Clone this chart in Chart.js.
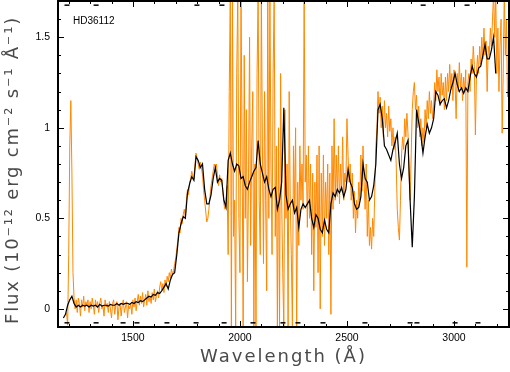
<!DOCTYPE html>
<html><head><meta charset="utf-8">
<script src="https://cdn.jsdelivr.net/npm/chart.js@4.4.1/dist/chart.umd.min.js"></script>
<style>html,body{margin:0;padding:0;background:#fff}canvas{display:block}</style>
</head><body>
<canvas id="c" width="510" height="372"></canvas>
<script>
// ---- data ----
const starName = 'HD36112';
const xTitle = 'Wavelength (Å)';
const yTitle = 'Flux (10⁻¹² erg cm⁻² s⁻¹ Å⁻¹)';
const xTickValues = [1500, 2000, 2500, 3000];
const xTickLabels = ['1500', '2000', '2500', '3000'];
const yTickValues = [0, 0.5, 1, 1.5];
const yTickLabels = ['0', '0.5', '1', '1.5'];

// black (smoothed) spectrum: wavelength grid start / step (Å)
const blackStart = 1175, blackStep = 10;
const blackFlux = [
  -0.05, -0.03, 0.02, 0.05, 0.07, 0.03, 0.01, 0.02, 0.01, 0.02,
  0.015, 0.02, 0.01, 0.02, 0.015, 0.02, 0.01, 0.025, 0.015, 0.02,
  0.02, 0.015, 0.025, 0.02, 0.02, 0.03, 0.02, 0.03, 0.025, 0.03,
  0.03, 0.025, 0.035, 0.03, 0.04, 0.035, 0.045, 0.04, 0.05, 0.06,
  0.07, 0.065, 0.08, 0.075, 0.09, 0.085, 0.1, 0.12, 0.14, 0.11,
  0.16, 0.19, 0.2, 0.3, 0.42, 0.47, 0.51, 0.5, 0.64, 0.69,
  0.73, 0.71, 0.84, 0.82, 0.78, 0.8, 0.66, 0.58, 0.58, 0.63,
  0.72, 0.78, 0.7, 0.72, 0.71, 0.6, 0.56, 0.82, 0.86, 0.8,
  0.76, 0.8, 0.79, 0.72, 0.73, 0.68, 0.66, 0.7, 0.73, 0.76,
  0.78, 0.93, 0.8, 0.75, 0.7, 0.73, 0.66, 0.62, 0.66, 0.67,
  0.55, 0.6, 0.7, 1.11, 0.63, 0.55, 0.58, 0.6, 0.53, 0.56,
  0.45, 0.55, 0.58, 0.56, 0.58, 0.6, 0.5, 0.45, 0.52, 0.5,
  0.44, 0.42, 0.49, 0.44, 0.42, 0.58, 0.64, 0.62, 0.66, 0.64,
  0.67, 0.62, 0.66, 0.77, 0.7, 0.67, 0.58, 0.55, 0.56, 0.62,
  0.8, 0.72, 0.7, 0.6, 0.62, 0.68, 0.8, 1.1, 1.13, 1.05,
  0.9, 0.88, 0.85, 0.82, 0.88, 0.92, 0.97, 0.8, 0.72, 0.78,
  0.9, 0.93, 0.6, 0.34, 0.62, 1.1, 1.03, 0.96, 0.86, 0.95,
  1.02, 0.97, 1.0, 1.05, 1.2, 1.18, 1.13, 1.15, 1.16, 1.11,
  1.15, 1.21, 1.25, 1.3, 1.24, 1.2, 1.22, 1.19, 1.22, 1.2,
  1.28, 1.34, 1.3, 1.28, 1.33, 1.34, 1.4, 1.46, 1.38, 1.38,
  1.43, 1.5, 1.3
];

// orange (raw) spectrum: wavelength grid start / step (Å)
const orangeStart = 1190, orangeStep = 5;
const orangeFlux = [
  -0.02, -0.09, 0.3, 0.9, 1.15, 0.75, 0.2, 0.06, 0.0, 0.05, -0.02, 0.06, 0.03, -0.04, 0.05, 0.01, 0.07, -0.01, 0.04, 0.02,
  0.05, -0.02, 0.04, 0.0, 0.06, 0.02, -0.03, 0.05, 0.01, 0.04, -0.02, 0.03, 0.06, 0.0, 0.02, -0.04, 0.05, 0.01, 0.03, -0.02,
  0.04, 0.0, -0.05, 0.03, 0.05, -0.03, 0.02, 0.04, -0.06, 0.01, 0.03, -0.04, 0.02, 0.05, -0.02, 0.01, 0.04, -0.05, 0.02, 0.0,
  0.03, -0.03, 0.05, 0.01, 0.06, -0.01, 0.04, 0.08, 0.02, 0.07, 0.03, 0.09, 0.01, 0.05, 0.08, 0.02, 0.1, 0.04, 0.07, 0.03,
  0.09, 0.05, 0.11, 0.04, 0.07, 0.1, 0.06, 0.12, 0.15, 0.1, 0.14, 0.09, 0.16, 0.12, 0.18, 0.15, 0.2, 0.17, 0.22, 0.19,
  0.21, 0.25, 0.28, 0.33, 0.38, 0.45, 0.42, 0.5, 0.47, 0.52, 0.55, 0.5, 0.6, 0.66, 0.63, 0.7, 0.72, 0.76, 0.73, 0.72,
  0.8, 0.86, 0.83, 0.8, 0.77, 0.81, 0.78, 0.74, 0.66, 0.6, 0.54, 0.48, 0.5, 0.55, 0.62, 0.68, 0.72, 0.76, 0.8, 0.78,
  0.8, 0.74, 0.68, 0.74, 0.7, 0.72, 0.65, 0.58, 0.55, 0.6, 0.68, 0.3, 1.2, 1.75, -0.1, 1.75, 0.4, 0.6, -0.1, 1.3,
  1.75, 0.5, 0.2, 1.75, 0.9, -0.1, 1.4, 0.5, 1.1, 0.15, 0.7, 1.5, 0.35, 0.9, 1.2, -0.1, 0.8, -0.1, 1.3, 1.75,
  0.6, 0.3, 1.75, 0.9, 0.25, 1.2, 0.6, 0.1, 1.75, 0.5, 1.75, 0.8, 0.3, 1.3, 1.75, 0.4, 0.9, -0.1, 1.0, -0.1,
  1.3, 0.6, 0.2, -0.1, 1.1, 0.5, 0.8, -0.1, 1.2, 0.6, 0.3, -0.1, 0.9, 0.55, 1.0, -0.1, 0.7, 0.35, 0.9, 0.6,
  0.8, 0.55, 1.75, 0.7, 0.85, 0.45, 0.9, 0.5, 0.8, 0.3, 0.75, 0.1, 0.7, 0.45, 0.85, 0.2, 0.9, 0.0, 0.75, 0.4,
  0.85, 0.35, 0.7, 0.5, 0.8, 0.3, 0.75, -0.03, 0.9, 0.55, 1.05, 0.6, 0.85, 0.62, 0.9, 0.58, 0.8, 0.65, 0.95, 0.6,
  0.75, 0.7, 1.05, 0.85, 0.7, 0.8, 0.6, 0.75, 0.5, 0.65, 0.42, 0.6, 0.5, 0.7, 0.6, 0.85, 0.65, 0.9, 0.7, 0.55,
  0.8, 0.4, 0.6, 0.35, 0.45, 0.33, 0.5, 0.4, 0.65, 0.9, 1.0, 1.2, 1.08, 1.17, 1.0, 1.12, 0.95, 1.15, 1.0, 1.08,
  0.95, 1.12, 0.98, 1.05, 0.9, 1.0, 0.88, 0.95, 0.8, 0.55, 0.45, 0.38, 0.6, 0.85, 0.95, 0.88, 1.05, 0.95, 1.08, 0.97,
  0.75, 0.6, 0.85, 1.1, 1.2, 1.25, 1.1, 1.18, 1.0, 1.12, 0.95, 1.05, 0.9, 1.0, 0.92, 1.1, 1.0, 1.15, 1.05, 1.2,
  1.08, 1.15, 1.05, 1.12, 1.25, 1.15, 1.32, 1.2, 1.28, 1.12, 1.3, 1.18, 1.25, 1.1, 1.28, 1.15, 1.3, 1.2, 1.35, 1.22,
  1.3, 1.15, 1.32, 1.25, 1.05, 1.3, 1.2, 1.36, 1.22, 1.3, 1.15, 1.28, 1.2, 1.32, 0.23, 1.25, 1.3, 1.2, 1.38, 1.3,
  1.45, 1.35, 0.96, 1.3, 1.4, 1.3, 1.45, 1.35, 1.5, 1.38, 1.55, 1.4, 1.48, 1.2, 1.45, 1.4, 1.55, 1.45, 1.6, 1.75,
  1.5, 1.75, 1.3, 1.55, 1.2, 1.45, 1.6, 0.97, 1.3, 1.75, 1.4, 1.6, 1.17
];

// flagged wavelengths (short dashes along bottom and top edges)
const flagsBottom = [1192, 1328, 1454, 1519, 1659, 1795, 1926, 2061, 2201, 2271, 2388, 2584, 2795, 2827, 3005, 3112];
const flagsTop = [1192, 1328, 1799, 1916, 2856, 3061];
const flagLevelBottom = -0.077, flagLevelTop = 1.677;

// ---- build ----
const blackPts = blackFlux.map((v, i) => ({x: blackStart + i * blackStep, y: v}));
const orangePts = orangeFlux.map((v, i) => ({x: orangeStart + i * orangeStep, y: v}));
const flagPts = flagsBottom.map(w => ({x: w, y: flagLevelBottom}))
  .concat(flagsTop.map(w => ({x: w, y: flagLevelTop})));

function spacedTitle(scale, sp, dy) {
  if (scale._spWrapped) return;
  const orig = scale.drawTitle;
  scale.drawTitle = function () {
    this.ctx.save();
    this.ctx.letterSpacing = sp;
    this.ctx.translate(0, dy);
    orig.call(this);
    this.ctx.restore();
  };
  scale._spWrapped = true;
}
function noPad(s) { s.paddingTop = 0; s.paddingBottom = 0; s.paddingLeft = 0; s.paddingRight = 0; }

const frameTicks = {
  id: 'frameTicks',
  afterDraw(chart) {
    const {ctx, chartArea: a} = chart;
    const x = chart.scales.x, y = chart.scales.y;
    ctx.save();
    ctx.strokeStyle = '#000';
    ctx.lineWidth = 1;
    ctx.beginPath();
    for (let v = 1200; v <= 3200; v += 100) {
      const px = Math.round(x.getPixelForValue(v)) + 0.5;
      const len = v % 500 === 0 ? 6 : 3;
      ctx.moveTo(px, a.bottom); ctx.lineTo(px, a.bottom - len);
      ctx.moveTo(px, a.top); ctx.lineTo(px, a.top + len);
    }
    for (let i = 0; i <= 17; i++) {
      const py = Math.round(y.getPixelForValue(i / 10)) + 0.5;
      const len = i % 5 === 0 ? 6 : 3;
      ctx.moveTo(a.left, py); ctx.lineTo(a.left + len, py);
      ctx.moveTo(a.right, py); ctx.lineTo(a.right - len, py);
    }
    ctx.stroke();
    ctx.lineWidth = 2;
    ctx.strokeRect(a.left, a.top, a.right - a.left, a.bottom - a.top);
    ctx.fillStyle = '#000';
    ctx.font = '10px "Liberation Sans", Arial, sans-serif';
    ctx.textBaseline = 'middle';
    ctx.textAlign = 'left';
    ctx.fillText(starName, a.left + 15, a.top + 20);
    ctx.restore();
  }
};

new Chart(document.getElementById('c'), {
  type: 'line',
  data: {
    datasets: [
      {label: 'flags', data: flagPts, showLine: false, pointStyle: 'line', pointRadius: 2.5,
       pointBorderWidth: 1.5, borderColor: '#000', backgroundColor: '#000', order: 0, clip: false},
      {label: 'smoothed', data: blackPts, borderColor: '#000', borderWidth: 1.2, pointRadius: 0, order: 1},
      {label: 'observed', data: orangePts, borderColor: '#ff8800', borderWidth: 1, pointRadius: 0, order: 2}
    ]
  },
  options: {
    responsive: false,
    animation: false,
    events: [],
    devicePixelRatio: 1,
    layout: {autoPadding: false, padding: {top: 1, right: 1, left: 0, bottom: 0}},
    plugins: {legend: {display: false}, tooltip: {enabled: false}},
    elements: {line: {tension: 0}},
    scales: {
      x: {
        type: 'linear', min: 1150, max: 3257,
        grid: {display: false, drawTicks: false},
        border: {display: false},
        afterBuildTicks: s => { s.ticks = xTickValues.map(v => ({value: v})); },
        afterFit: s => { s.height = 45; noPad(s); spacedTitle(s, '2px', 0); },
        ticks: {
          padding: 5, color: '#000', maxRotation: 0, autoSkip: false,
          font: {family: '"Liberation Sans", Arial, sans-serif', size: 10.5},
          callback: (v, i) => xTickLabels[i]
        },
        title: {display: true, text: xTitle, color: '#4a4a4a', padding: {top: 0, bottom: 4},
          font: {family: '"DejaVu Sans", sans-serif', size: 18}}
      },
      y: {
        type: 'linear', min: -0.1, max: 1.7,
        grid: {display: false, drawTicks: false},
        border: {display: false},
        afterBuildTicks: s => { s.ticks = yTickValues.map(v => ({value: v})); },
        afterFit: s => { s.width = 58; noPad(s); spacedTitle(s, '1.8px', 6); },
        ticks: {
          padding: 8, color: '#000', autoSkip: false,
          font: {family: '"Liberation Sans", Arial, sans-serif', size: 10.5},
          callback: (v, i) => yTickLabels[i]
        },
        title: {display: true, text: yTitle, color: '#4a4a4a', padding: {top: 3, bottom: 0},
          font: {family: '"DejaVu Sans", sans-serif', size: 18}}
      }
    }
  },
  plugins: [frameTicks]
});
</script>
</body></html>
